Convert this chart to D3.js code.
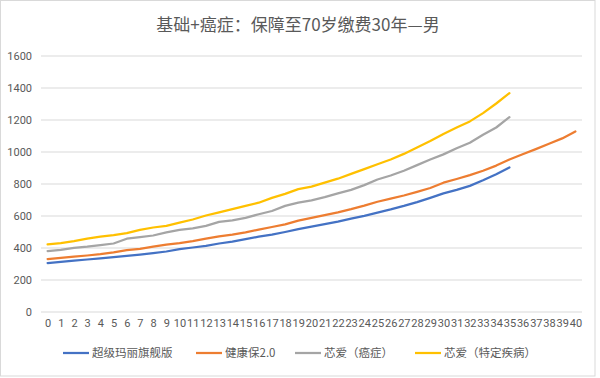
<!DOCTYPE html>
<html>
<head>
<meta charset="utf-8">
<script src="https://cdn.jsdelivr.net/npm/d3@7"></script>
<style>
  body { margin: 0; background: #fff; }
  text { font-family: Roboto, 'Noto Sans CJK SC', sans-serif; fill: #595959; }
</style>
</head>
<body>
<div id="chart"></div>
<script>
// policy years 0..40
const years = d3.range(0, 41);
const yTicks = [0, 200, 400, 600, 800, 1000, 1200, 1400, 1600];

const seriesNames = ['超级玛丽旗舰版', '健康保2.0', '芯爱（癌症）', '芯爱（特定疾病）'];
const seriesColors = ['#4472C4', '#ED7D31', '#A5A5A5', '#FFC000'];

const superMary = [303, 310, 318, 325, 332, 340, 348, 356, 365, 375, 390, 400, 410, 425, 437, 452, 468, 480, 497, 515,
  530, 546, 562, 580, 598, 618, 638, 660, 684, 710, 738, 760, 785, 820, 858, 900];
const jianKangBao = [328, 335, 343, 350, 358, 370, 384, 392, 405, 418, 428, 440, 455, 470, 480, 495, 512, 528, 545, 568,
  585, 602, 620, 640, 662, 686, 705, 725, 748, 772, 805, 828, 852, 880, 912, 950, 983, 1015, 1048, 1082, 1125];
const xinAiCancer = [378, 385, 398, 405, 415, 425, 455, 465, 475, 495, 510, 520, 535, 560, 570, 585, 608, 628, 660, 680,
  695, 715, 738, 760, 790, 825, 850, 880, 915, 950, 982, 1020, 1055, 1105, 1150, 1215];
const xinAiDisease = [420, 428, 440, 455, 468, 478, 490, 510, 525, 535, 555, 575, 600, 620, 640, 660, 680, 710, 735, 765,
  780, 805, 830, 860, 890, 920, 950, 985, 1025, 1065, 1110, 1150, 1188, 1240, 1300, 1365];

const seriesValues = [superMary, jianKangBao, xinAiCancer, xinAiDisease];

class LineChart {
  constructor(_config) {
    this.config = {
      parentElement: _config.parentElement,
      containerWidth: 600,
      containerHeight: 378,
      margin: { top: 55.5, right: 18, bottom: 66.5, left: 41 }
    };
    this.initVis();
  }

  initVis() {
    let vis = this;
    vis.width = vis.config.containerWidth - vis.config.margin.left - vis.config.margin.right;
    vis.height = vis.config.containerHeight - vis.config.margin.top - vis.config.margin.bottom;

    vis.svg = d3.select(vis.config.parentElement).append('svg')
      .attr('width', vis.config.containerWidth)
      .attr('height', vis.config.containerHeight);

    // outer frame
    vis.svg.append('rect')
      .attr('x', 0.5).attr('y', 0.5)
      .attr('width', 594.5).attr('height', 375.5)
      .attr('fill', 'none')
      .attr('stroke', '#d9d9d9');

    vis.svg.append('text')
      .attr('x', 298).attr('y', 31)
      .attr('text-anchor', 'middle')
      .style('font-family', "'Noto Sans CJK SC', sans-serif")
      .style('font-size', '17px')
      .text('基础+癌症：保障至70岁缴费30年—男');

    vis.chart = vis.svg.append('g')
      .attr('transform', `translate(${vis.config.margin.left},${vis.config.margin.top})`);

    vis.xScale = d3.scalePoint()
      .domain(years)
      .range([0, vis.width])
      .padding(0.5);

    vis.yScale = d3.scaleLinear()
      .domain([0, 1600])
      .range([vis.height, 0]);

    vis.renderVis();
  }

  renderVis() {
    let vis = this;

    // horizontal gridlines
    vis.chart.append('g')
      .selectAll('line')
      .data(yTicks)
      .join('line')
      .attr('x1', 0).attr('x2', vis.width)
      .attr('y1', d => Math.round(vis.yScale(d)) + 0.5)
      .attr('y2', d => Math.round(vis.yScale(d)) + 0.5)
      .attr('stroke', '#d9d9d9')
      .attr('stroke-width', 1);

    const yAxis = d3.axisLeft(vis.yScale)
      .tickValues(yTicks)
      .tickFormat(d3.format('d'))
      .tickSize(0)
      .tickPadding(9);
    vis.chart.append('g')
      .call(yAxis)
      .call(g => g.select('.domain').remove())
      .selectAll('text')
      .style('font-size', '11px')
      .attr('fill', '#595959');

    const xAxis = d3.axisBottom(vis.xScale).tickSize(0).tickPadding(8);
    vis.chart.append('g')
      .attr('transform', `translate(0,${vis.height})`)
      .call(xAxis)
      .call(g => g.select('.domain').remove())
      .selectAll('text')
      .style('font-size', '11px')
      .attr('fill', '#595959');

    const line = d3.line()
      .x((d, i) => vis.xScale(years[i]))
      .y(d => vis.yScale(d));

    vis.chart.append('g')
      .selectAll('path')
      .data(seriesValues)
      .join('path')
      .attr('d', d => line(d))
      .attr('fill', 'none')
      .attr('stroke', (d, i) => seriesColors[i])
      .attr('stroke-width', 2.25)
      .attr('stroke-linejoin', 'round')
      .attr('stroke-linecap', 'round');

    // legend
    const legendX = [63, 196, 295, 415];
    const legend = vis.svg.append('g')
      .attr('transform', 'translate(0,353)');
    const items = legend.selectAll('g')
      .data(seriesNames)
      .join('g')
      .attr('transform', (d, i) => `translate(${legendX[i]},0)`);
    items.append('line')
      .attr('x1', 0).attr('x2', 26)
      .attr('stroke', (d, i) => seriesColors[i])
      .attr('stroke-width', 2.25);
    items.append('text')
      .attr('x', 29).attr('dy', '0.35em')
      .style('font-family', "'Noto Sans CJK SC', sans-serif")
      .style('font-size', '11.5px')
      .text(d => d);
  }
}

new LineChart({ parentElement: '#chart' });
</script>
</body>
</html>
